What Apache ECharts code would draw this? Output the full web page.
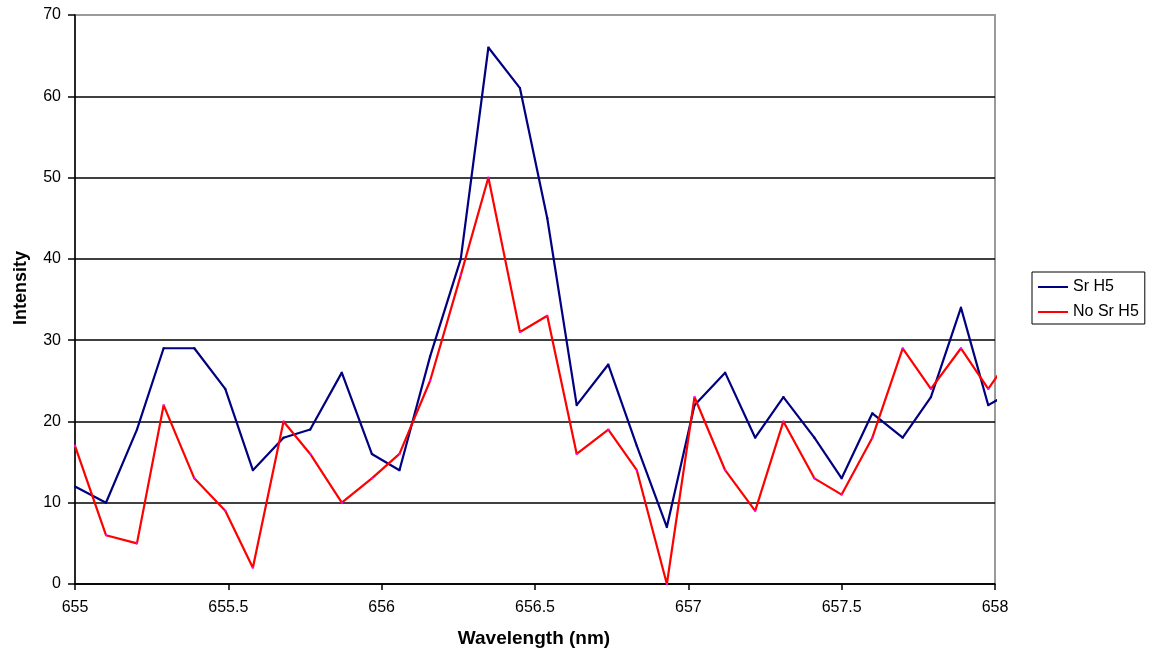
<!DOCTYPE html>
<html>
<head>
<meta charset="utf-8">
<title>Sr H5 intensity vs wavelength</title>
<script src="https://cdn.jsdelivr.net/npm/echarts@6/dist/echarts.min.js"></script>
<style>
  html, body { margin: 0; padding: 0; background: #ffffff; }
  #chart { width: 1153px; height: 658px; }
</style>
</head>
<body>
<div id="chart"></div>
<script>
// Wavelength samples (nm) shared by both spectra
var wavelength = [
  655.000, 655.101, 655.202, 655.289, 655.389, 655.490, 655.580, 655.680,
  655.767, 655.870, 655.968, 656.058, 656.158, 656.258, 656.348, 656.451,
  656.540, 656.636, 656.739, 656.832, 656.930, 657.020, 657.120, 657.218,
  657.310, 657.411, 657.500, 657.600, 657.699, 657.791, 657.889, 657.978,
  658.070
];

// Measured intensities
var srH5 = [
  12, 10, 19, 29, 29, 24, 14, 18, 19, 26, 16, 14, 28, 40, 66, 61,
  45, 22, 27, 17, 7, 22, 26, 18, 23, 18, 13, 21, 18, 23, 34, 22,
  24
];
var noSrH5 = [
  17, 6, 5, 22, 13, 9, 2, 20, 16, 10, 13, 16, 25, 38, 50, 31,
  33, 16, 19, 14, 0, 23, 14, 9, 20, 13, 11, 18, 29, 24, 29, 24,
  29
];

var seriesNames = ['Sr H5', 'No Sr H5'];
var lineColors = ['#000080', '#ff0000'];
var markerColors = ['#000080', '#ff00ff'];

function pairs(xs, ys) {
  return xs.map(function (x, i) { return [x, ys[i]]; });
}

var FONT = '"Liberation Sans", Arial, sans-serif';
// thin horizontal stroke used as the legend key
var LEGEND_LINE = 'path://M0,0 L30,0 L30,2 L0,2 Z';

var chart = echarts.init(document.getElementById('chart'), null, { renderer: 'canvas' });

chart.setOption({
  animation: false,
  backgroundColor: '#ffffff',
  grid: {
    left: 75, right: 158, top: 15, bottom: 74,
    show: true,
    borderColor: '#9a9a9a',
    borderWidth: 2,
    backgroundColor: '#ffffff'
  },
  xAxis: {
    type: 'value',
    min: 655, max: 658, interval: 0.5,
    axisLine: { show: true, lineStyle: { color: '#000000', width: 1.5 } },
    axisTick: { show: true, inside: false, length: 6, lineStyle: { color: '#000000', width: 1.5 } },
    axisLabel: { color: '#000000', fontFamily: FONT, fontSize: 16, margin: 16 },
    splitLine: { show: false }
  },
  yAxis: {
    type: 'value',
    min: 0, max: 70, interval: 10,
    axisLine: { show: true, lineStyle: { color: '#000000', width: 1.5 } },
    axisTick: { show: true, inside: false, length: 7, lineStyle: { color: '#000000', width: 1.5 } },
    axisLabel: { color: '#000000', fontFamily: FONT, fontSize: 16, margin: 14 },
    splitLine: {
      show: true,
      lineStyle: {
        color: ['#000000', '#000000', '#000000', '#000000', '#000000', '#000000', '#000000', '#9a9a9a'],
        width: 1.5
      }
    }
  },
  legend: {
    orient: 'vertical',
    left: 1032, top: 272,
    padding: [7, 6, 4, 6],
    itemWidth: 30, itemHeight: 14, itemGap: 9,
    borderColor: '#000000', borderWidth: 1,
    backgroundColor: '#ffffff',
    textStyle: { color: '#000000', fontFamily: FONT, fontSize: 16, lineHeight: 16 },
    data: seriesNames.map(function (n, i) {
      return { name: n, icon: LEGEND_LINE, itemStyle: { color: lineColors[i] } };
    })
  },
  graphic: [
    {
      type: 'text',
      x: 21, y: 288,
      rotation: Math.PI / 2,
      style: {
        text: 'Intensity',
        font: 'bold 18px ' + FONT,
        fill: '#000000',
        align: 'center',
        verticalAlign: 'middle'
      }
    },
    {
      type: 'text',
      x: 534, y: 639,
      style: {
        text: 'Wavelength (nm)',
        font: 'bold 19px ' + FONT,
        fill: '#000000',
        align: 'center',
        verticalAlign: 'middle'
      }
    }
  ],
  series: [
    {
      name: seriesNames[0],
      type: 'line',
      data: pairs(wavelength, srH5),
      clip: true,
      symbol: 'rect',
      symbolSize: 2,
      showSymbol: true,
      itemStyle: { color: markerColors[0] },
      lineStyle: { color: lineColors[0], width: 2.2 },
      z: 3
    },
    {
      name: seriesNames[1],
      type: 'line',
      data: pairs(wavelength, noSrH5),
      clip: true,
      symbol: 'rect',
      symbolSize: 2,
      showSymbol: true,
      itemStyle: { color: markerColors[1] },
      lineStyle: { color: lineColors[1], width: 2.2 },
      z: 4
    }
  ]
});
</script>
</body>
</html>
